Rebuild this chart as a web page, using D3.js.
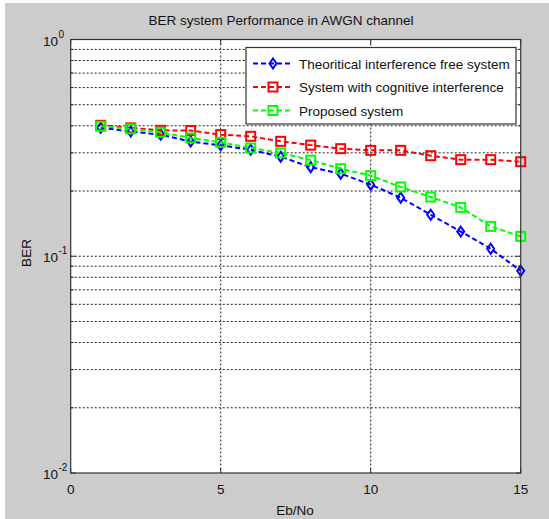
<!DOCTYPE html>
<html><head><meta charset="utf-8">
<script src="https://cdn.jsdelivr.net/npm/d3@7"></script>
<style>body{margin:0;background:#fff}svg{display:block}text{font-family:"Liberation Sans",Arial,sans-serif}</style>
</head><body><svg id="c" width="549" height="519"></svg>
<script>
const ebno = [1,2,3,4,5,6,7,8,9,10,11,12,13,14,15];
const theoretical = [0.392,0.376,0.364,0.338,0.325,0.310,0.288,0.2576,0.2405,0.214,0.1863,0.1554,0.130,0.1083,0.0857];
const cognitive = [0.402,0.391,0.381,0.380,0.364,0.3576,0.339,0.3256,0.3136,0.308,0.308,0.291,0.279,0.279,0.273];
const proposed = [0.398,0.387,0.373,0.3515,0.3354,0.316,0.2997,0.2775,0.2535,0.2354,0.2088,0.1877,0.168,0.1373,0.1235];
const xTicks = [0,5,10,15];
const yTicks = [1e-2,1e-1,1];
const labels = ["Theoritical interference free system","System with cognitive interference","Proposed system"];
const title = "BER system Performance in AWGN channel";

const svg = d3.select("#c");
svg.append("rect").attr("x",5).attr("y",3).attr("width",549).attr("height",519).attr("fill","#cccccc");
const L=70.7,R=520.7,T=39.5,B=473;
const x = d3.scaleLinear().domain([0,15]).range([L,R]);
const y = d3.scaleLog().domain([1e-2,1]).range([B,T]);
svg.append("rect").attr("x",L).attr("y",T).attr("width",R-L).attr("height",B-T).attr("fill","#fff");

const g = svg.append("g");
// grid
const minor = [];
for (let e=-2;e<0;e++) for (let m=1;m<=9;m++) if(!(e===-2&&m===1)) minor.push(m*Math.pow(10,e));
g.selectAll(".hg").data(minor).join("line")
 .attr("x1",L).attr("x2",R).attr("y1",d=>y(d)).attr("y2",d=>y(d))
 .attr("stroke","#222").attr("stroke-width",1).attr("stroke-dasharray","2,2");
g.selectAll(".vg").data(xTicks.slice(1,-1)).join("line")
 .attr("x1",d=>x(d)).attr("x2",d=>x(d)).attr("y1",T).attr("y2",B)
 .attr("stroke","#222").attr("stroke-width",1).attr("stroke-dasharray","2,2");
// ticks inward
g.selectAll(".xt").data(xTicks).join("g").each(function(d){
  const s=d3.select(this);
  s.append("line").attr("x1",x(d)).attr("x2",x(d)).attr("y1",B).attr("y2",B-5).attr("stroke","#333");
  s.append("line").attr("x1",x(d)).attr("x2",x(d)).attr("y1",T).attr("y2",T+5).attr("stroke","#333");
});
g.selectAll(".yt").data(minor.concat([1e-2,1])).join("g").each(function(d){
  const s=d3.select(this);
  const len = Math.abs(Math.log10(d)-Math.round(Math.log10(d)))<1e-9?5:3;
  s.append("line").attr("x1",L).attr("x2",L+len).attr("y1",y(d)).attr("y2",y(d)).attr("stroke","#333");
  s.append("line").attr("x1",R).attr("x2",R-len).attr("y1",y(d)).attr("y2",y(d)).attr("stroke","#333");
});

// series
const series = [
 {vals:theoretical,color:"#0000ff",marker:"diamond"},
 {vals:cognitive,color:"#ff0000",marker:"square"},
 {vals:proposed,color:"#00ff00",marker:"square"}
];
const line = d3.line().x(d=>x(d[0])).y(d=>y(d[1]));
function marker(sel,type,color){
  if(type==="diamond") sel.append("path").attr("d","M0,-5L3.5,0L0,5L-3.5,0Z");
  else sel.append("rect").attr("x",-4.5).attr("y",-4.5).attr("width",9).attr("height",9);
  sel.select(":last-child").attr("fill","none").attr("stroke",color).attr("stroke-width",2);
}
series.forEach(s=>{
  const pts = ebno.map((e,i)=>[e,s.vals[i]]);
  g.append("path").datum(pts).attr("d",line).attr("fill","none").attr("stroke",s.color).attr("stroke-width",2).attr("stroke-dasharray","5,3");
  pts.forEach(p=>{
    const m=g.append("g").attr("transform",`translate(${x(p[0])},${y(p[1])})`);
    marker(m,s.marker,s.color);
  });
});

// box
svg.append("rect").attr("x",L).attr("y",T).attr("width",R-L).attr("height",B-T).attr("fill","none").attr("stroke","#333").attr("stroke-width",1.2);

// legend
const lg = svg.append("g");
lg.append("rect").attr("x",246).attr("y",47.5).attr("width",270).attr("height",76.5).attr("fill","#fff").attr("stroke","#333").attr("stroke-width",1.2);
const rowsY=[63.5,87,110.5];
series.forEach((s,i)=>{
  lg.append("line").attr("x1",253).attr("x2",293).attr("y1",rowsY[i]).attr("y2",rowsY[i]).attr("stroke",s.color).attr("stroke-width",2).attr("stroke-dasharray","5,3");
  const m=lg.append("g").attr("transform",`translate(273,${rowsY[i]})`);
  marker(m,s.marker,s.color);
  lg.append("text").attr("x",299).attr("y",rowsY[i]+5).attr("font-size",13.5).attr("fill","#111").text(labels[i]);
});

// axis labels
svg.selectAll(".xl").data(xTicks).join("text").attr("x",d=>x(d)).attr("y",494).attr("text-anchor","middle").attr("font-size",13.5).attr("fill","#111").text(d=>d);
yTicks.forEach(v=>{
  const e=Math.round(Math.log10(v));
  const t=svg.append("text").attr("x",58).attr("y",y(v)+6).attr("text-anchor","end").attr("font-size",13.5).attr("fill","#111");
  t.append("tspan").text("10");
  svg.append("text").attr("x",58.5).attr("y",y(v)-2).attr("font-size",10).attr("fill","#111").text(e);
});
svg.append("text").attr("x",295).attr("y",515).attr("text-anchor","middle").attr("font-size",13.5).attr("fill","#111").text("Eb/No");
svg.append("text").attr("transform","translate(31,253) rotate(-90)").attr("text-anchor","middle").attr("font-size",13.5).attr("fill","#111").text("BER");
svg.append("text").attr("x",281).attr("y",25).attr("text-anchor","middle").attr("font-size",13.5).attr("fill","#111").text(title);
</script></body></html>
